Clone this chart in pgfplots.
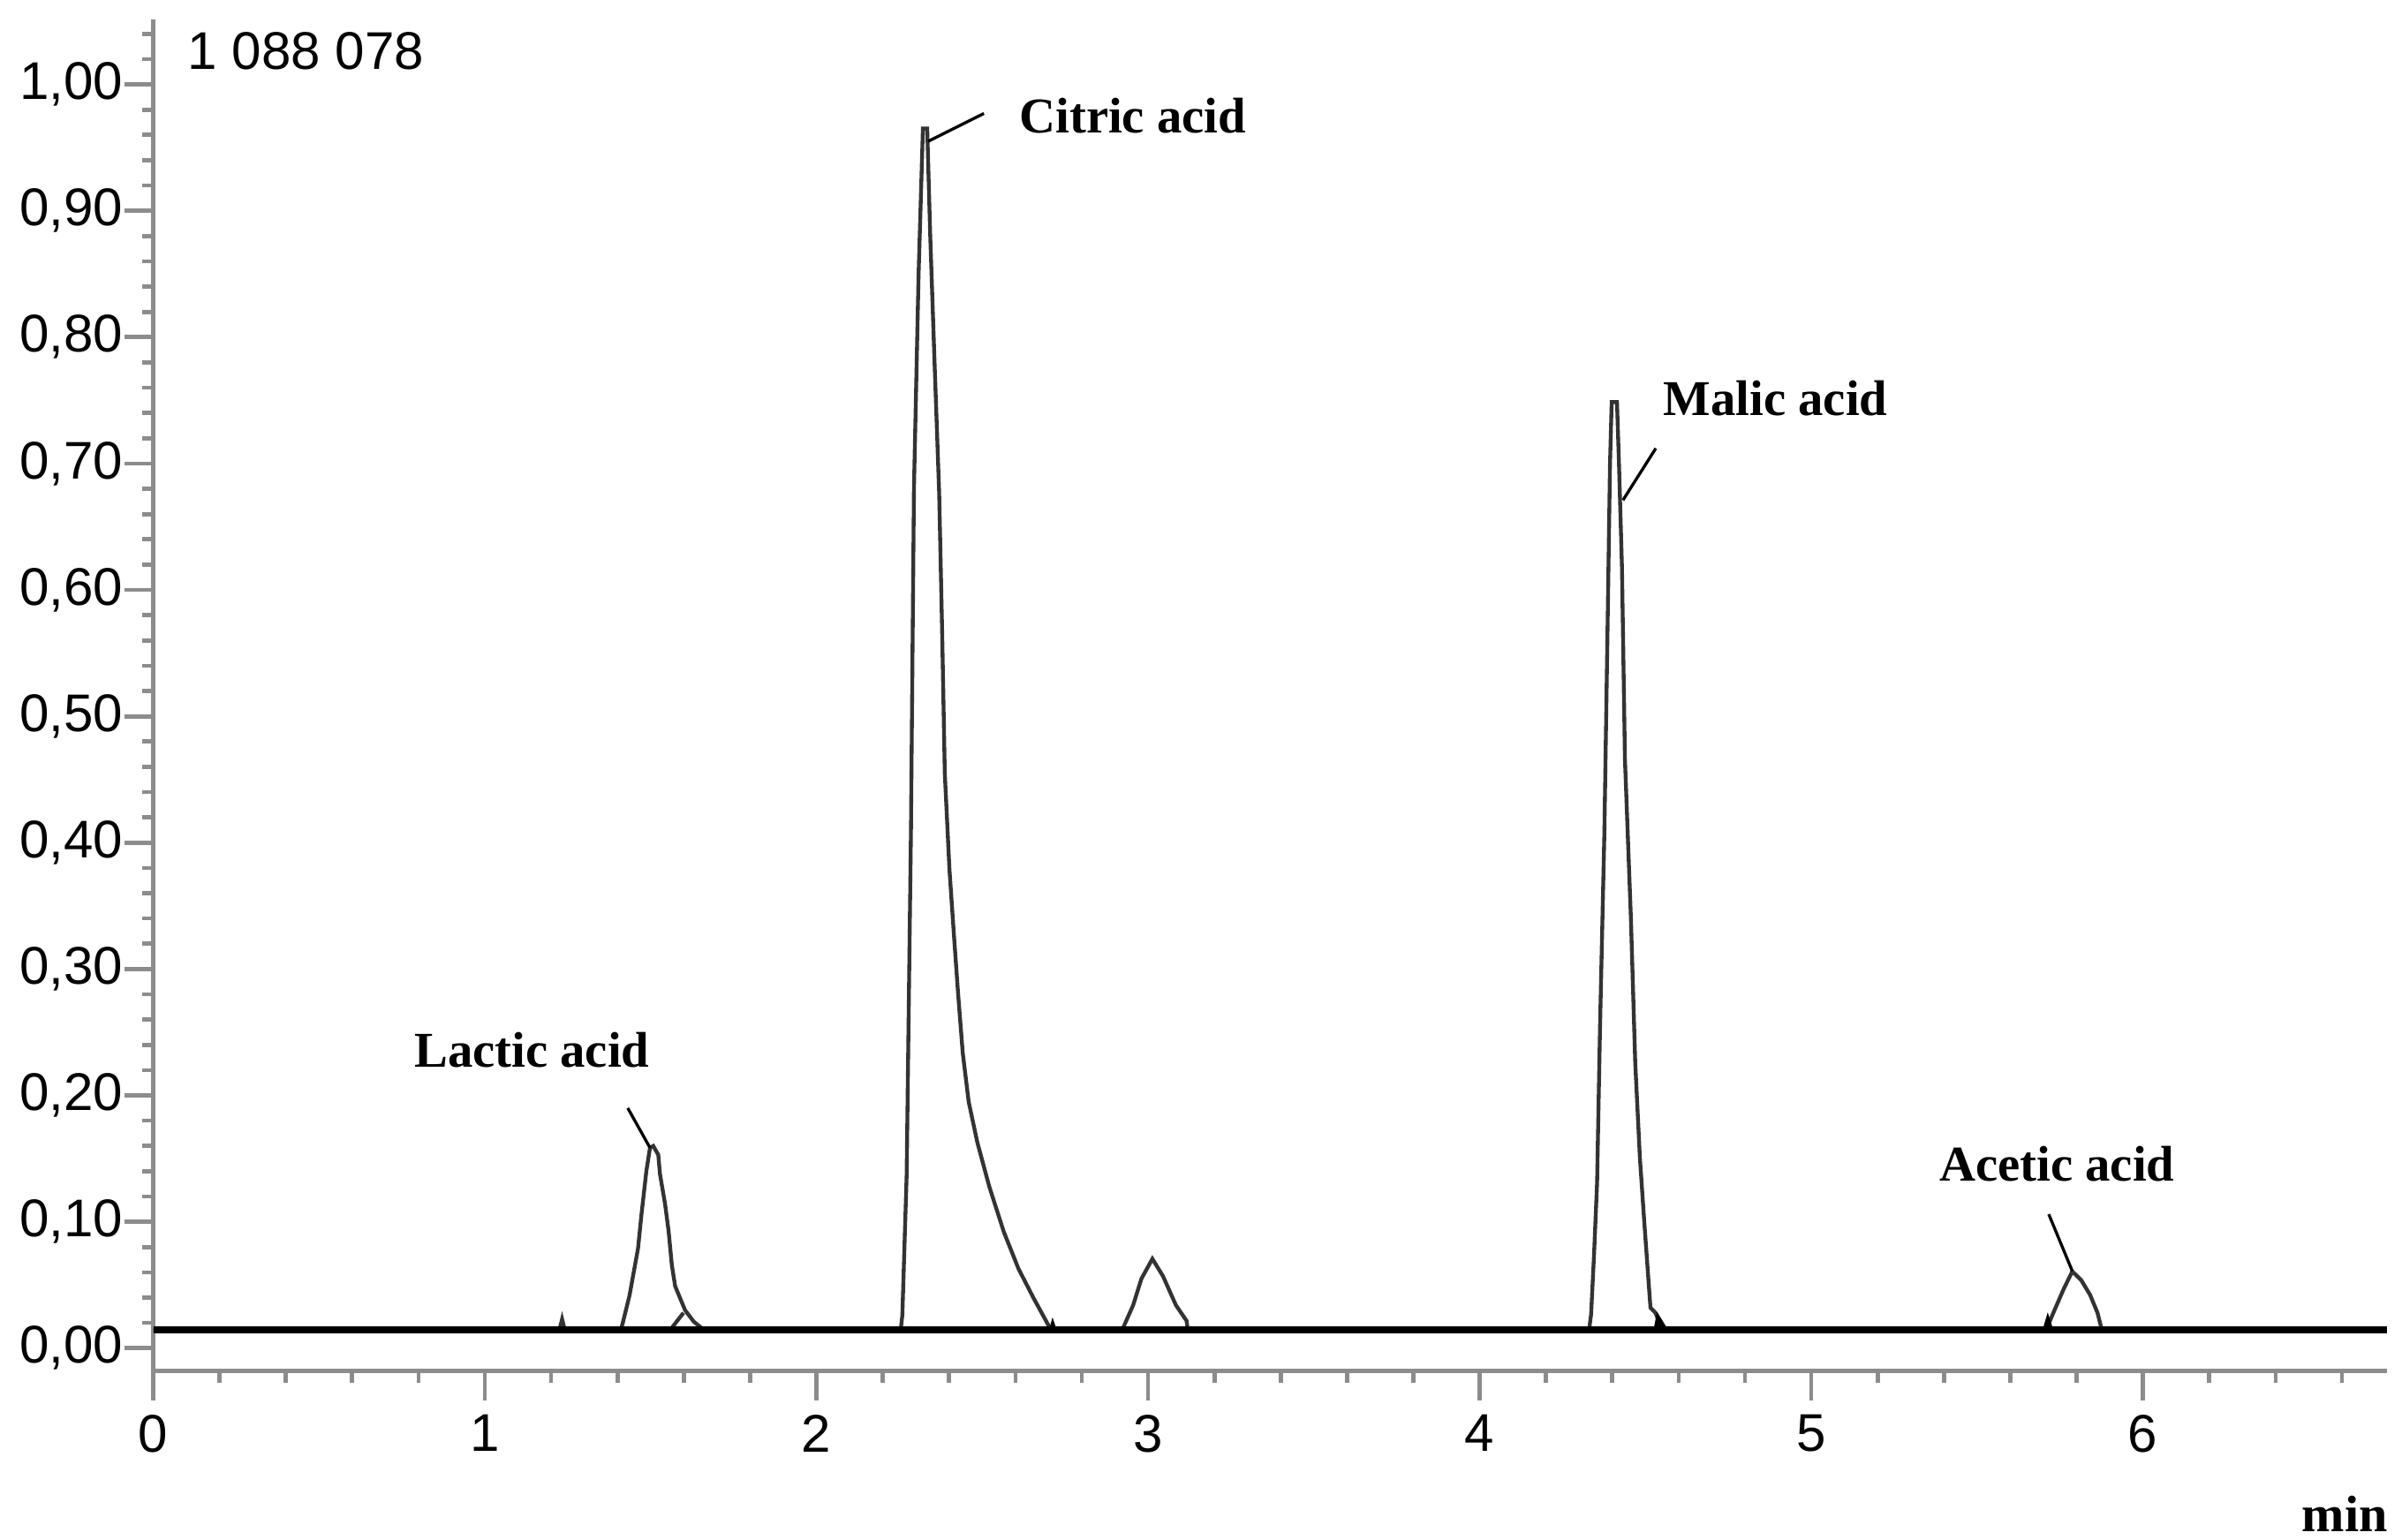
\documentclass[border=0pt]{standalone}
\usepackage{fontspec}
\setmainfont{Liberation Serif}
\setsansfont{Liberation Sans}
\usepackage{pgfplots}
\pgfplotsset{compat=1.18}
\definecolor{axisgray}{HTML}{8C8C8C}
\definecolor{trace}{HTML}{333333}

\begin{document}
\begin{tikzpicture}
\begin{axis}[
  scale only axis, width=379pt, height=229.4pt,
  xmin=0, xmax=6.735, ymin=-0.0182, ymax=1.0514,
  axis lines=left,
  axis line style={-, draw=axisgray, line width=0.75pt},
  tick align=outside,
  tick style={draw=axisgray, line width=0.7pt},
  major tick length=4.9pt, minor tick length=1.9pt,
  xtick={0,1,2,3,4,5,6},
  minor xtick={0.2,0.4,...,6.7},
  ytick={0,0.1,0.2,0.3,0.4,0.5,0.6,0.7,0.8,0.9,1.0},
  minor ytick={0.02,0.04,...,1.05},
  /pgf/number format/assume math mode=true,
  ticklabel style={font=\sffamily\fontsize{9}{10}\selectfont, text=black},
  yticklabel style={xshift=3.3pt, /pgf/number format/.cd, fixed, fixed zerofill, precision=2, use comma},
  xticklabel style={yshift=1pt, /pgf/number format/.cd, fixed, precision=0},
  clip=false,
]
% chromatogram trace
\addplot[draw=trace, line width=0.65pt] coordinates {
(0,0.0145) (1.225,0.0145) (1.233,0.023) (1.241,0.0145)
(1.410,0.0145) (1.416,0.020) (1.4365,0.042) (1.462,0.079) (1.472,0.105)
(1.487,0.140) (1.498,0.1586) (1.508,0.160) (1.523,0.153) (1.528,0.138)
(1.5435,0.114) (1.554,0.093) (1.564,0.0655) (1.574,0.049) (1.604,0.030)
(1.630,0.021) (1.661,0.0145)
(2.254,0.0145) (2.259,0.026) (2.272,0.137) (2.285,0.41) (2.294,0.68)
(2.308,0.85) (2.321,0.965) (2.334,0.965) (2.343,0.881) (2.356,0.781)
(2.370,0.677) (2.379,0.567) (2.387,0.455) (2.401,0.379) (2.414,0.329)
(2.427,0.281) (2.441,0.234) (2.459,0.195) (2.485,0.163) (2.521,0.128)
(2.565,0.092) (2.609,0.063) (2.654,0.040) (2.707,0.0145)
(2.922,0.0145) (2.955,0.034) (2.980,0.055) (3.013,0.0707) (3.045,0.057)
(3.084,0.034) (3.116,0.0217) (3.120,0.0145)
(4.330,0.0145) (4.336,0.027) (4.345,0.075) (4.354,0.131) (4.363,0.256)
(4.376,0.408) (4.385,0.56) (4.393,0.70) (4.398,0.7486) (4.414,0.7486)
(4.420,0.70) (4.429,0.618) (4.438,0.466) (4.456,0.340) (4.469,0.226)
(4.483,0.151) (4.496,0.101) (4.509,0.0535) (4.515,0.032) (4.530,0.028)
(4.550,0.0145)
(5.708,0.0145) (5.734,0.0305) (5.761,0.0468) (5.787,0.0608) (5.814,0.0538)
(5.841,0.042) (5.863,0.028) (5.876,0.0145) (6.735,0.0145)
};
% small integration marks
\addplot[draw=trace, line width=0.65pt] coordinates {(1.559,0.0145) (1.599,0.028)};
\addplot[fill=black, draw=black, line width=0.3pt] coordinates {(5.700,0.0145) (5.713,0.026) (5.727,0.0145)} -- cycle;
\addplot[fill=black, draw=black, line width=0.3pt] coordinates {(4.527,0.0145) (4.536,0.027) (4.565,0.0145)} -- cycle;
\addplot[fill=black, draw=black, line width=0.3pt] coordinates {(2.704,0.0145) (2.712,0.022) (2.722,0.0145)} -- cycle;
% baseline
\addplot[black, line width=1.3pt] coordinates {(0,0.0145) (6.735,0.0145)};
% label leader lines
\addplot[black, line width=0.5pt] coordinates {(1.431,0.190) (1.498,0.1586)};
\addplot[black, line width=0.5pt] coordinates {(2.337,0.955) (2.505,0.977)};
\addplot[black, line width=0.5pt] coordinates {(4.432,0.671) (4.531,0.712)};
\addplot[black, line width=0.5pt] coordinates {(5.716,0.106) (5.787,0.061)};
% labels
\node[font=\bfseries\fontsize{8.5}{10}\selectfont, inner sep=0] at (axis cs:1.142,0.236) {Lactic acid};
\node[font=\bfseries\fontsize{8.5}{10}\selectfont, inner sep=0] at (axis cs:2.954,0.975) {Citric acid};
\node[font=\bfseries\fontsize{8.5}{10}\selectfont, inner sep=0] at (axis cs:4.892,0.7515) {Malic acid};
\node[font=\bfseries\fontsize{8.5}{10}\selectfont, inner sep=0] at (axis cs:5.741,0.1455) {Acetic acid};
\node[font=\sffamily\fontsize{9}{10}\selectfont, anchor=north west, inner sep=0] at (axis cs:0.1015,1.042) {1 088 078};
\node[font=\bfseries\fontsize{8.7}{10}\selectfont, anchor=base east, inner sep=0] at (axis cs:6.741,-0.145) {min};
\coordinate (SW) at (rel axis cs:0,0);
\coordinate (NE) at (rel axis cs:1,1);
\end{axis}
\path ([shift={(-26pt,-28.6pt)}]SW) rectangle ([shift={(2.6pt,3.3pt)}]NE);
\end{tikzpicture}
\end{document}
